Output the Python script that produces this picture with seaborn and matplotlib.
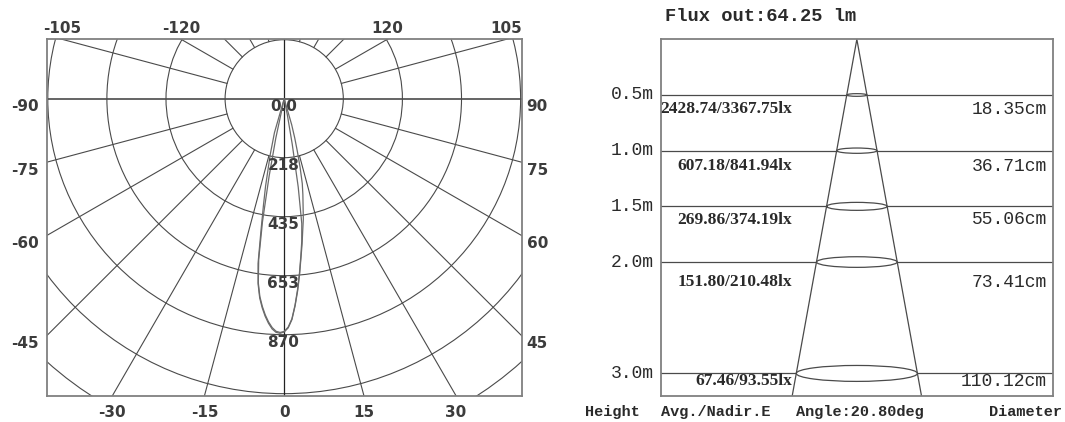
import numpy as np
import pandas as pd
import matplotlib
matplotlib.use("Agg")
import matplotlib.pyplot as plt
from matplotlib.patches import Circle, Ellipse
import seaborn as sns

# ---------------- data ----------------
# polar intensity curves (angle from nadir in degrees, candela)
angles_c0 = [-18, -16, -14, -12, -11, -10, -9, -8, -7, -6, -5, -4, -3, -2, -1, 0,
             1, 2, 3, 4, 5, 6, 7, 8, 9, 10, 11, 12, 13, 14, 15, 16, 18]
cd_c0 = [0, 130, 213, 330, 400, 490, 615, 690, 740, 775, 805, 830, 850, 862, 865, 860,
         845, 815, 765, 710, 650, 590, 540, 490, 450, 400, 360, 320, 260, 200, 150, 100, 0]
angles_c90 = [-13, -12, -11, -10, -9, -8, -7, -6, -5, -4, -3, -2, -1, 0,
              1, 2, 3, 4, 5, 6, 7, 8, 9, 10, 11, 12]
cd_c90 = [0, 150, 290, 460, 600, 685, 735, 770, 800, 825, 845, 858, 862, 858,
          842, 812, 762, 705, 645, 585, 530, 465, 330, 170, 60, 0]
ring_values = [0, 217.5, 435, 652.5, 870]
ring_labels = ["0.0", "218", "435", "653", "870"]
bottom_ticks = [-30, -15, 0, 15, 30]
left_ticks = [-90, -75, -60, -45]
right_ticks = [90, 75, 60, 45]
top_ticks = [-105, -120, 120, 105]

# illuminance cone
flux_lm = 64.25
beam_angle = 20.80
heights_m = [0.5, 1.0, 1.5, 2.0, 3.0]
avg_lux = ["2428.74", "607.18", "269.86", "151.80", "67.46"]
nadir_lux = ["3367.75", "841.94", "374.19", "210.48", "93.55"]
diam_cm = ["18.35", "36.71", "55.06", "73.41", "110.12"]

# ---------------- layout ----------------
W, H = 1065, 422
sns.set_theme(style="white")
plt.rcParams["font.family"] = ["DejaVu Sans"]
fig = plt.figure(figsize=(W / 100, H / 100), dpi=100)
fig.patch.set_facecolor("white")

grid_c = "#4a4a4a"
curve_c = "#6a6a6a"
txt_c = "#2a2a2a"
PX = 72 / 100  # points per pixel

def px_axes(l, t, r, b):
    return fig.add_axes([l / W, 1 - b / H, (r - l) / W, (b - t) / H])

# ---------- left: polar diagram ----------
ax = px_axes(46.7, 39.3, 521.7, 395.7)
XL, YB, YT = 874, -1095, 219
ax.set_xlim(-XL, XL)
ax.set_ylim(YB, YT)
ax.set_xticks([]); ax.set_yticks([])
for s in ax.spines.values():
    s.set_color("#808080"); s.set_linewidth(1.3)

step = ring_values[1]
for k in range(1, 7):
    ax.add_patch(Circle((0, 0), k * step, fill=False, ec=grid_c, lw=0.8))
for a in range(0, 360, 15):
    if a % 90 == 0:
        continue
    t = np.radians(a)
    ax.plot([step * np.sin(t), 3000 * np.sin(t)], [-step * np.cos(t), -3000 * np.cos(t)],
            color=grid_c, lw=0.8)
ax.plot([0, 0], [YB, YT], color="#222222", lw=0.9)
ax.plot([-XL, XL], [0, 0], color=grid_c, lw=1.2)

for ang, cd in [(angles_c0, cd_c0), (angles_c90, cd_c90)]:
    t = np.radians(np.array(ang, dtype=float))
    r = np.array(cd, dtype=float)
    df = pd.DataFrame({"x": r * np.sin(t), "y": -r * np.cos(t)})
    sns.lineplot(data=df, x="x", y="y", sort=False, estimator=None, ax=ax,
                 color=curve_c, lw=0.9)
ax.set_xlabel(""); ax.set_ylabel("")

lab_kw = dict(fontsize=11, fontweight="bold", color="#3c3c3c", annotation_clip=False,
              textcoords="offset points")
for v, s in zip(ring_values, ring_labels):
    ax.annotate(s, (0, -v), xytext=(-1 * PX, -8 * PX), ha="center", va="center", **lab_kw)
for v in bottom_ticks:
    ax.annotate(str(v), (-YB * np.tan(np.radians(v)), YB),
                xytext=(0, -17 * PX), ha="center", va="center", **lab_kw)
for v in left_ticks:
    t = np.radians(v)
    ax.annotate(str(v), (-XL, XL * np.cos(t) / np.sin(t)), xytext=(-8 * PX, -8 * PX),
                ha="right", va="center", **lab_kw)
for v in right_ticks:
    t = np.radians(v)
    ax.annotate(str(v), (XL, -XL * np.cos(t) / np.sin(t)), xytext=(5 * PX, -8 * PX),
                ha="left", va="center", **lab_kw)
for v in top_ticks:
    t = np.radians(v)
    rr = -YT / np.cos(t)
    ax.annotate(str(v), (rr * np.sin(t), YT), xytext=(0, 11 * PX),
                ha="center", va="center", **lab_kw)

# ---------- right: illuminance cone ----------
bx = px_axes(660.7, 39.3, 1053, 395.7)
XR, YMAX = 1.783, 3.2
bx.set_xlim(-XR, XR)
bx.set_ylim(YMAX, 0)
bx.set_xticks([]); bx.set_yticks([])
for s in bx.spines.values():
    s.set_color("#808080"); s.set_linewidth(1.3)

half = np.tan(np.radians(beam_angle / 2))
cone = pd.DataFrame({"x": [-YMAX * half, 0, YMAX * half], "y": [YMAX, 0, YMAX]})
sns.lineplot(data=cone, x="x", y="y", sort=False, estimator=None, ax=bx,
             color=grid_c, lw=0.9)
bx.set_xlabel(""); bx.set_ylabel("")

label_y = [0.63, 1.14, 1.62, 2.18, 3.07]
mono = ["Liberation Mono", "DejaVu Sans Mono"]
for h, a, n, d, ly in zip(heights_m, avg_lux, nadir_lux, diam_cm, label_y):
    rad = h * half
    bx.plot([-XR, -rad], [h, h], color=grid_c, lw=0.9)
    bx.plot([rad, XR], [h, h], color=grid_c, lw=0.9)
    bx.add_patch(Ellipse((0, h), 2 * rad, 2 * rad * 0.13, fill=False, ec=grid_c, lw=0.9))
    bx.annotate(f"{h:.1f}m", (-XR, h), xytext=(-7 * PX, 0), textcoords="offset points",
                ha="right", va="center", fontsize=13, family=mono, color=txt_c,
                annotation_clip=False)
    bx.text(-YMAX * half, ly, f"{a}/{n}lx", ha="right", va="center", fontsize=12.5,
            family=["Liberation Serif"], fontweight="bold", color=txt_c)
    bx.annotate(f"{d}cm", (XR, ly), xytext=(-6 * PX, 0), textcoords="offset points",
                ha="right", va="center", fontsize=13, family=mono, color=txt_c,
                annotation_clip=False)

def ftext(x, y, s, **kw):
    fig.text(x / W, 1 - y / H, s, va="center", color=txt_c, family=mono, **kw)

ftext(665, 16.7, f"Flux out:{flux_lm:.2f} lm", ha="left", fontsize=13.5, fontweight="bold")
ftext(585, 412.3, "Height", ha="left", fontsize=11, fontweight="bold")
ftext(660.7, 412.3, "Avg./Nadir.E", ha="left", fontsize=11, fontweight="bold")
ftext(860, 412.3, f"Angle:{beam_angle:.2f}deg", ha="center", fontsize=11, fontweight="bold")
ftext(1062, 412.3, "Diameter", ha="right", fontsize=11, fontweight="bold")

fig.savefig("out.png", dpi=100, facecolor="white")
